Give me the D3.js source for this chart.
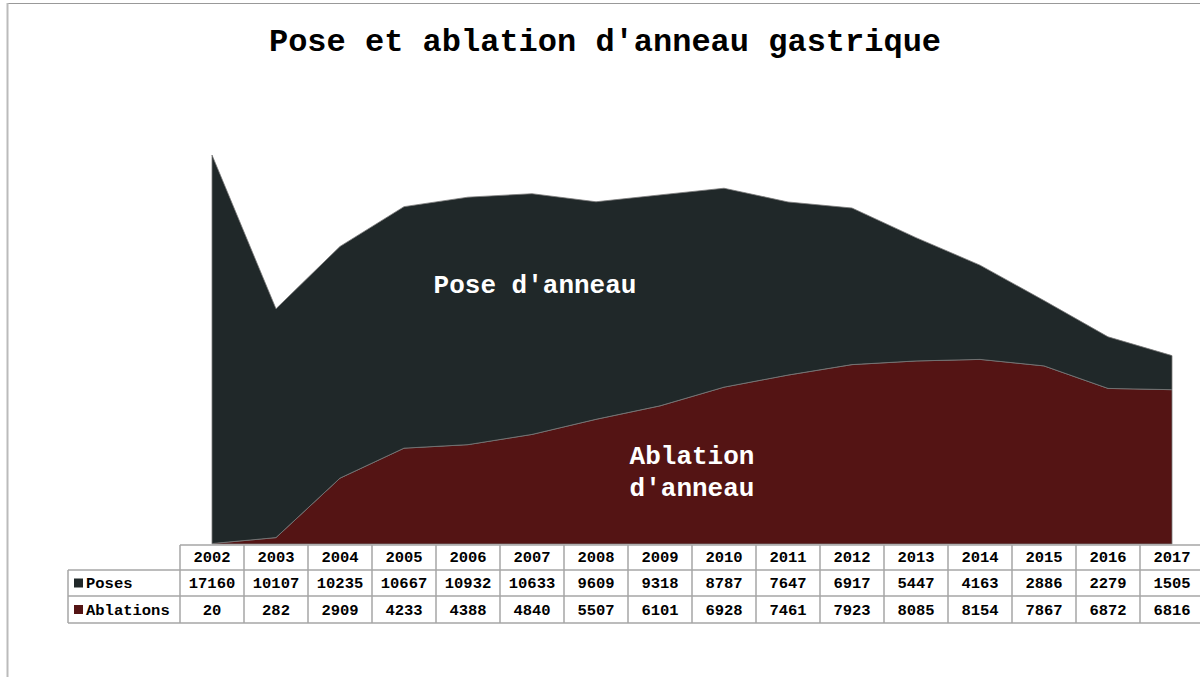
<!DOCTYPE html>
<html>
<head>
<meta charset="utf-8">
<script src="https://cdn.jsdelivr.net/npm/d3@7"></script>
<style>
  html, body { margin: 0; padding: 0; background: #fff; }
  svg { display: block; }
  text { font-family: "Liberation Mono", "Courier New", monospace; font-weight: bold; }
</style>
</head>
<body>
<script>
const years = ["2002","2003","2004","2005","2006","2007","2008","2009","2010","2011","2012","2013","2014","2015","2016","2017"];
const poses = [17160,10107,10235,10667,10932,10633,9609,9318,8787,7647,6917,5447,4163,2886,2279,1505];
const ablations = [20,282,2909,4233,4388,4840,5507,6101,6928,7461,7923,8085,8154,7867,6872,6816];
const seriesNames = ["Poses","Ablations"];
const seriesColors = ["#202829","#541414"];
const title = "Pose et ablation d'anneau gastrique";

const W = 1200, H = 677;
const svg = d3.select("body").append("svg").attr("width", W).attr("height", H);

// frame
svg.append("line").attr("x1", 7).attr("x2", W).attr("y1", 3.5).attr("y2", 3.5)
  .attr("stroke", "#999").attr("stroke-width", 1.2);
svg.append("line").attr("x1", 7.5).attr("x2", 7.5).attr("y1", 3).attr("y2", H)
  .attr("stroke", "#bbb").attr("stroke-width", 2);

// title
svg.append("text").attr("x", 605).attr("y", 51).attr("text-anchor", "middle")
  .attr("font-size", 32).attr("fill", "#000").text(title);

const colW = 64, tableX = 180;
const x = d3.scalePoint().domain(years).range([tableX + colW/2, tableX + colW/2 + colW*(years.length-1)]);
const y = d3.scaleLinear().domain([0, 20000]).range([544, 91.2]);

const rows = years.map((yr, i) => ({year: yr, Ablations: ablations[i], Poses: poses[i]}));
const stack = d3.stack().keys(["Ablations","Poses"]);
const stacked = stack(rows);
const area = d3.area().x(d => x(d.data.year)).y0(d => y(d[0])).y1(d => y(d[1]));
const colorOf = {Poses: seriesColors[0], Ablations: seriesColors[1]};

svg.append("g").selectAll("path").data(stacked).join("path")
  .attr("d", area)
  .attr("fill", d => colorOf[d.key])
  .attr("stroke", "#7a7a7a").attr("stroke-width", 0.8);

// in-chart labels
svg.append("text").attr("x", 535).attr("y", 293).attr("text-anchor", "middle")
  .attr("font-size", 26).attr("fill", "#fff").text("Pose d'anneau");
const abl = svg.append("text").attr("x", 692).attr("text-anchor", "middle")
  .attr("font-size", 26).attr("fill", "#fff");
abl.append("tspan").attr("x", 692).attr("y", 464).text("Ablation");
abl.append("tspan").attr("x", 692).attr("y", 496).text("d'anneau");

// data table
const rowY = [545, 570, 596, 623];
const legendX = 68;
const tableRight = tableX + colW*years.length;
const tg = svg.append("g");
const lineColor = "#a6a6a6";
tg.append("line").attr("x1", tableX).attr("x2", tableRight).attr("y1", rowY[0]).attr("y2", rowY[0])
  .attr("stroke", lineColor).attr("stroke-width", 1.5);
[1,2,3].forEach(k => {
  tg.append("line").attr("x1", legendX).attr("x2", tableRight).attr("y1", rowY[k]).attr("y2", rowY[k])
    .attr("stroke", lineColor).attr("stroke-width", 1.5);
});
tg.append("line").attr("x1", legendX).attr("x2", legendX).attr("y1", rowY[1]).attr("y2", rowY[3])
  .attr("stroke", lineColor).attr("stroke-width", 1.5);
d3.range(years.length + 1).forEach(i => {
  const xx = tableX + colW*i;
  tg.append("line").attr("x1", xx).attr("x2", xx).attr("y1", rowY[0]).attr("y2", rowY[3])
    .attr("stroke", lineColor).attr("stroke-width", 1.5);
});
tg.selectAll("text.hdr").data(years).join("text").attr("class","hdr")
  .attr("x", d => x(d)).attr("y", 562).attr("text-anchor","middle")
  .attr("font-size", 15.5).attr("fill","#000").text(d => d);
const seriesVals = [poses, ablations];
seriesNames.forEach((name, r) => {
  const cy = (rowY[r+1] + rowY[r+2]) / 2;
  tg.append("rect").attr("x", 74).attr("y", cy - 4.5).attr("width", 9).attr("height", 9)
    .attr("fill", seriesColors[r]);
  tg.append("text").attr("x", 86).attr("y", cy + 5).attr("font-size", 15.5).attr("fill","#000").text(name);
  tg.selectAll("text.v" + r).data(seriesVals[r]).join("text").attr("class","v"+r)
    .attr("x", (d,i) => x(years[i])).attr("y", cy + 5).attr("text-anchor","middle")
    .attr("font-size", 15.5).attr("fill","#000").text(d => d);
});
</script>
</body>
</html>
